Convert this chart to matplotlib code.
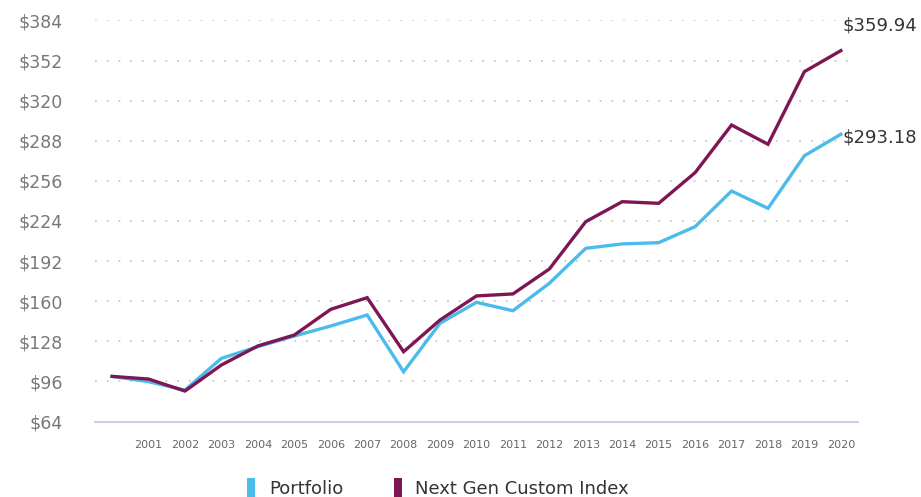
import matplotlib
matplotlib.use("Agg")
import matplotlib.pyplot as plt
from matplotlib.patches import Patch

years = ["", "2001", "2002", "2003", "2004", "2005", "2006", "2007", "2008", "2009", "2010",
         "2011", "2012", "2013", "2014", "2015", "2016", "2017", "2018", "2019", "2020"]
portfolio = [100.0, 95.8, 89.1, 114.4, 123.7, 132.2, 140.2, 149.0, 103.7, 142.4, 159.1,
             152.4, 174.3, 202.2, 205.7, 206.7, 219.5, 247.9, 234.1, 276.1, 293.18]
index_vals = [100.0, 97.9, 88.3, 109.1, 124.3, 133.0, 153.5, 162.8, 119.7, 145.0, 164.2,
              165.8, 185.7, 223.5, 239.4, 238.1, 262.6, 300.6, 285.2, 343.2, 359.94]
yticks = [64, 96, 128, 160, 192, 224, 256, 288, 320, 352, 384]

blue = "#4bbbeb"
purple = "#7f1654"

plt.rcParams['font.family'] = ['DejaVu Sans']

fig = plt.figure(figsize=(9.21, 4.97), dpi=100)
fig.patch.set_facecolor('white')
ax = fig.add_axes([0.1031, 0.1519, 0.8285, 0.8069])

x = list(range(len(years)))
ax.plot(x, portfolio, color=blue, linewidth=2.4, solid_joinstyle='miter', zorder=3)
ax.plot(x, index_vals, color=purple, linewidth=2.4, solid_joinstyle='miter', zorder=4)

ax.set_xlim(-0.47, len(years) - 0.53)
ax.set_ylim(64, 384)
ax.set_xticks(x)
ax.set_xticklabels(years, fontsize=8, color="#666666")
ax.set_yticks(yticks)
ax.set_yticklabels(["$" + str(v) for v in yticks], fontsize=12.5, color="#777777")
ax.tick_params(axis='both', length=0)
ax.tick_params(axis='y', pad=23)
ax.tick_params(axis='x', pad=13)

# dotted grid, no line at the baseline
for v in yticks[1:]:
    ax.axhline(v, color="#c8c8c8", linewidth=1.3, linestyle=(0, (1, 5.5)), zorder=1)

for s in ['top', 'right', 'left']:
    ax.spines[s].set_visible(False)
ax.spines['bottom'].set_color("#c8d2e4")
ax.spines['bottom'].set_linewidth(1.5)

ax.annotate("$359.94", xy=(x[-1], index_vals[-1]), xytext=(1, 18), textcoords='offset points',
            fontsize=13, color="#333333", ha='left', va='center', annotation_clip=False)
ax.annotate("$293.18", xy=(x[-1], portfolio[-1]), xytext=(1, -2), textcoords='offset points',
            fontsize=13, color="#333333", ha='left', va='center', annotation_clip=False)

handles = [Patch(facecolor=blue, edgecolor='none', label="Portfolio"),
           Patch(facecolor=purple, edgecolor='none', label="Next Gen Custom Index")]
leg = fig.legend(handles=handles, loc='center', bbox_to_anchor=(438 / 921, 1 - 488 / 497),
                 ncol=2, frameon=False, fontsize=13, handlelength=0.45, handleheight=1.35,
                 handletextpad=0.75, columnspacing=2.8)
for t in leg.get_texts():
    t.set_color("#333333")

plt.savefig("out.png", dpi=100)
plt.close()
